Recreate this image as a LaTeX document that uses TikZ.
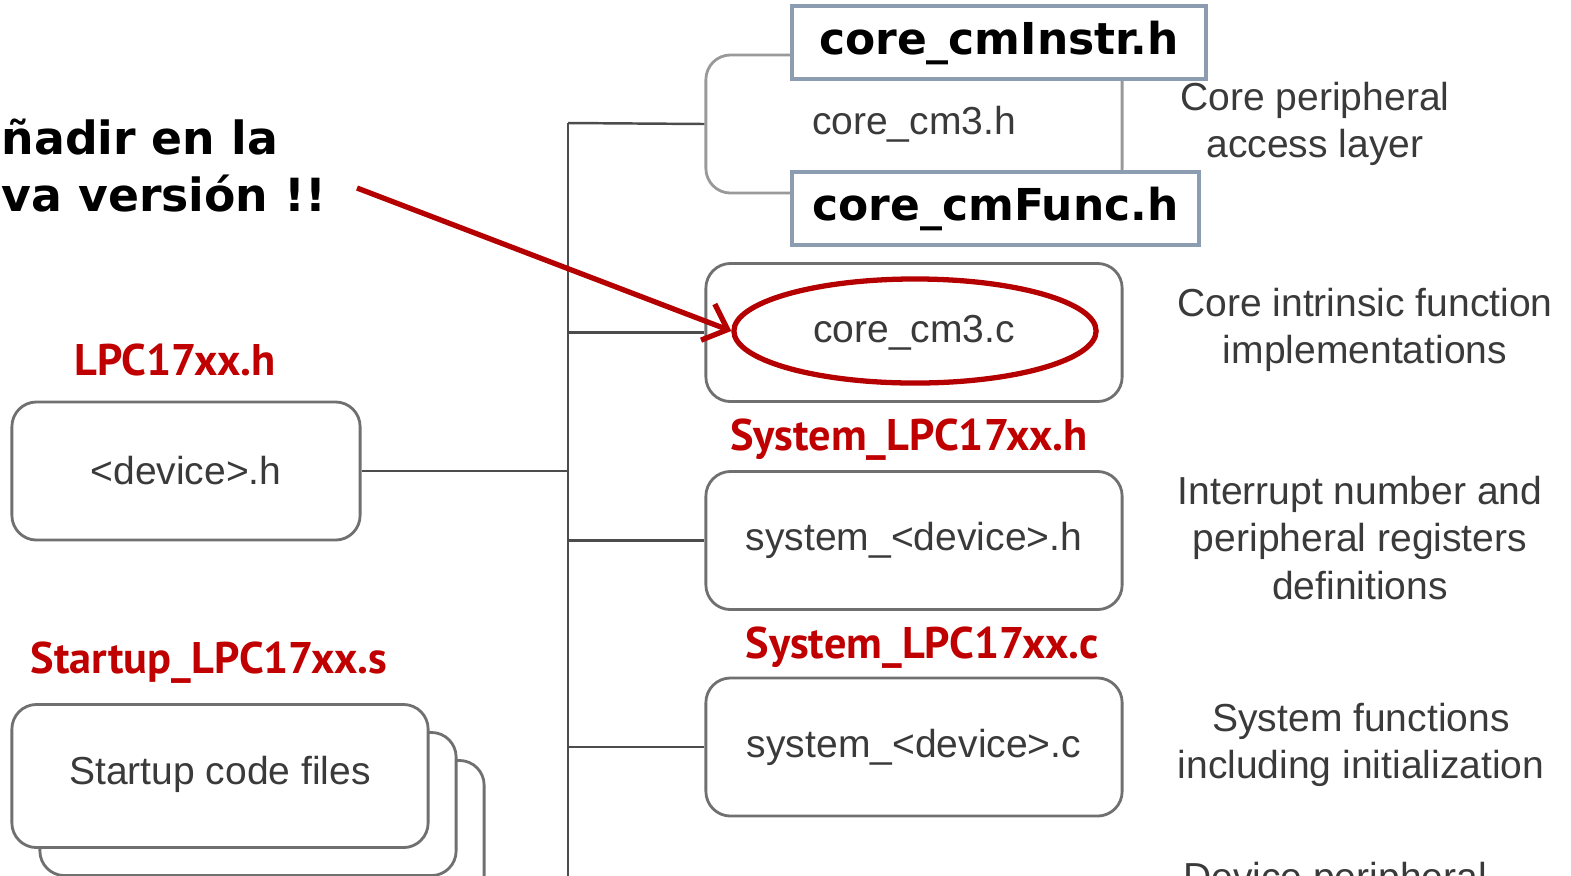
\documentclass[tikz,border=0pt]{standalone}
\usepackage{fontspec}
\setmainfont{Liberation Sans}
\newfontfamily\notefont{DejaVu Sans}
\newfontfamily\lblfont{PT Sans}
\usetikzlibrary{shapes.geometric,arrows.meta}
\definecolor{lblred}{HTML}{C00000}
\definecolor{markred}{HTML}{B40000}
\definecolor{boxgray}{HTML}{707070}
\definecolor{txtgray}{HTML}{3A3A3A}
\definecolor{tagblue}{HTML}{8C9DB2}
\tikzset{
  filebox/.style={draw=boxgray, line width=0.8pt, fill=white, rounded corners=7pt,
    minimum width=4.16cm, minimum height=1.38cm, text=txtgray,
    font=\fontsize{11.1}{13.4}\selectfont},
  desc/.style={align=center, text=txtgray, font=\fontsize{11.1}{13.4}\selectfont},
  redlbl/.style={text=lblred, font=\lblfont\bfseries\fontsize{12.6}{14}\selectfont},
  tagbox/.style={draw=tagblue, line width=1.2pt, fill=white, inner sep=0pt,
    font=\notefont\bfseries\fontsize{12.5}{14}\selectfont},
  bus/.style={draw=black!70, line width=0.7pt}
}
\begin{document}
\begin{tikzpicture}[x=0.01cm,y=-0.01cm]
\useasboundingbox (0,0) rectangle (1571,875);
\clip (0,0) rectangle (1571,875);

% note in the top left corner
\node[anchor=north west, inner sep=0pt, align=left,
  font=\notefont\bfseries\fontsize{13}{16.2}\selectfont] (note) at (1,118)
  {ñadir en la\\va versión !!};

% bus line
\coordinate (busTop) at (568,123);
\coordinate (busEnd) at (568,890);
\draw[bus] (busTop) -- (busEnd);

% core files
\node[filebox, draw=black!40] (cmh) at (914,124) {core\_cm3.h};
\node[tagbox, minimum width=4.14cm, minimum height=0.73cm] (instr) at (999,42.5) {core\_cmInstr.h};
\node[tagbox, minimum width=4.07cm, minimum height=0.73cm] (func) at (995.5,208.5) {core\_cmFunc.h};
\node[filebox] (cmc) at (914,332.5) {core\_cm3.c};

% device files
\node[redlbl] (lpch) at (175,360) {LPC17xx.h};
\node[filebox, minimum width=3.48cm] (dev) at (186,471) {<device>.h};
\node[redlbl] (sysh) at (909,440) {System\_LPC17xx.h};
\node[filebox] (sysdh) at (914,540.5) {system\_<device>.h};
\node[redlbl] (sysc) at (922,648) {System\_LPC17xx.c};
\node[filebox] (sysdc) at (914,747) {system\_<device>.c};

% startup stack
\node[redlbl] (start) at (209,663) {Startup\_LPC17xx.s};
\node[filebox, minimum height=1.43cm] (stack3) at (276,832) {};
\node[filebox, minimum height=1.43cm] (stack2) at (248,804) {};
\node[filebox, minimum height=1.43cm] (stack1) at (220,776) {};
\node[desc, anchor=center] (stacktxt) at (220,774) {Startup code files};

% branches
\draw[bus] (busTop) -- (cmh.west);
\draw[bus] (cmc.west) -| (busTop);
\draw[bus] (dev.east) -- (dev.east -| busTop);
\draw[bus] (sysdh.west) -- (sysdh.west -| busTop);
\draw[bus] (sysdc.west) -- (sysdc.west -| busTop);

% descriptions
\node[desc] (d1) at (1315,124) {Core peripheral\\access layer};
\node[desc] (d2) at (1365,330) {Core intrinsic function\\implementations};
\node[desc] (d3) at (1360,538) {Interrupt number and\\peripheral registers\\definitions};
\node[desc] (d4) at (1361,745) {System functions\\including initialization};
\node[desc, anchor=base] (d5) at (1335,890) {Device peripheral};

% highlight
\node[draw=markred, line width=1.5pt, ellipse, minimum width=3.62cm, minimum height=1.04cm] (hl) at (915,331) {};
\coordinate (tail) at (357,188);
\draw[markred, line width=1.5pt, -{Straight Barb[length=6pt,width=11pt]}] (tail) -- (hl.west);
\end{tikzpicture}
\end{document}
